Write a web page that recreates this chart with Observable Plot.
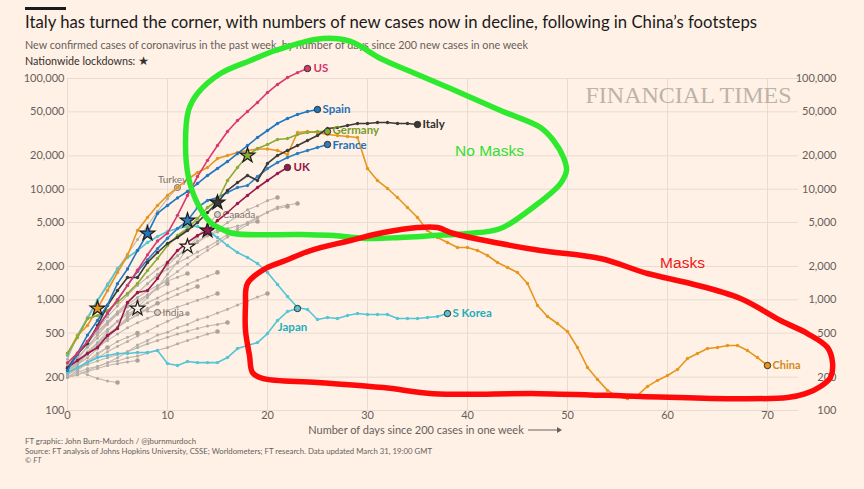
<!DOCTYPE html>
<html><head><meta charset="utf-8">
<script src="https://cdn.jsdelivr.net/npm/d3@7"></script>
<script src="https://cdn.jsdelivr.net/npm/@observablehq/plot@0.6"></script>
<style>
html,body{margin:0;padding:0;background:#fff1e5;}
body{width:864px;height:489px;position:relative;overflow:hidden;font-family:Lato,"Open Sans",sans-serif;}
.abs{position:absolute;white-space:nowrap;transform-origin:0 50%;}
#bar{left:25px;top:7px;width:41px;height:3px;background:#1a1a1a;}
#title{left:25px;top:12px;font-size:17px;line-height:20px;color:#1a1a1a;}
#subtitle{left:25px;top:39px;font-size:10.5px;line-height:12px;color:#66605c;}
#legend{left:25px;top:55px;font-size:10.5px;line-height:12px;color:#33302e;}
#chart{left:0;top:68px;z-index:2;}
.foot{left:25px;font-size:7.5px;line-height:9.5px;color:#66605c;}
</style>
</head><body>
<div id="bar" class="abs"></div>
<div id="title" class="abs">Italy has turned the corner, with numbers of new cases now in decline, following in China’s footsteps</div>
<div id="subtitle" class="abs">New confirmed cases of coronavirus in the past week, by number of days since 200 new cases in one week</div>
<div id="legend" class="abs">Nationwide lockdowns: <span style="font-family:'DejaVu Sans';font-size:12px">★</span></div>
<div id="chart" class="abs"></div>
<div id="f1" class="abs foot" style="top:437px">FT graphic: John Burn-Murdoch / @jburnmurdoch</div>
<div id="f2" class="abs foot" style="top:446.5px">Source: FT analysis of Johns Hopkins University, CSSE; Worldometers; FT research. Data updated March 31, 19:00 GMT</div>
<div id="f3" class="abs foot" style="top:456px">© <i>FT</i></div>
<script>
// ---- Data (values by day since 200 new cases in one week) ----
const us = [270, 330, 420, 560, 760, 1000, 1350, 1850, 2550, 3400, 4000, 5800, 8770, 13000, 18200, 24800, 33200, 41700, 50300, 60700, 74700, 88300, 102000, 113000, 123000];
const spain = [230, 330, 480, 650, 900, 1400, 1900, 2790, 3970, 6030, 7120, 8340, 9530, 11250, 13290, 15370, 17780, 21000, 24800, 29300, 33900, 39200, 43500, 47300, 50300, 52500];
const italy = [240, 327, 403, 586, 889, 1214, 1592, 1592, 2175, 2677, 3228, 3660, 4230, 5000, 6150, 7570, 9730, 11480, 13290, 11970, 17060, 20150, 22350, 24800, 27530, 30530, 35320, 36060, 37600, 39200, 39200, 40000, 40000, 39200, 39200, 38400];
const germany = [330, 457, 678, 720, 801, 950, 1141, 1405, 1841, 2362, 3097, 3813, 4410, 5430, 6830, 7900, 11970, 15700, 20150, 23300, 25330, 28100, 28700, 31200, 32500, 33200, 33200];
const france = [240, 320, 420, 560, 750, 1000, 1350, 1800, 2300, 2900, 3600, 4400, 5210, 6830, 7900, 8410, 9330, 10350, 10790, 13000, 15370, 17400, 19300, 21000, 22350, 23800, 25330];
const uk = [245, 283, 327, 371, 476, 551, 946, 1165, 1214, 1558, 2175, 2790, 3300, 3813, 4230, 5210, 6150, 7420, 8770, 10350, 11970, 13840, 15700];
const china = [327, 476, 586, 835, 1214, 1766, 2515, 4230, 5550, 7120, 8770, 10350, 12230, 14150, 15700, 18900, 20150, 21450, 22350, 23070, 23070, 22350, 20570, 32500, 33200, 32500, 31200, 30550, 29900, 29300, 15370, 11970, 10140, 8410, 6830, 5550, 4230, 3660, 3300, 2970, 2970, 2790, 2515, 2175, 1960, 1766, 1405, 889, 707, 611, 517, 371, 245, 191, 152, 134, 128, 137, 165, 187, 207, 235, 295, 327, 363, 371, 387, 387, 348, 301, 255];
const skorea = [314, 476, 678, 986, 1347, 1919, 2412, 2790, 3300, 3735, 4143, 4410, 4600, 4600, 4230, 3660, 3097, 2677, 2412, 2130, 1766, 1376, 1072, 853, 818, 664, 693, 678, 722, 752, 737, 737, 737, 678, 678, 678, 693, 707, 752];
const japan = [220, 245, 271, 301, 314, 327, 327, 334, 334, 348, 266, 255, 277, 271, 271, 271, 301, 363, 387, 411, 496, 650, 785, 835];

const turkey = [290, 480, 700, 1000, 1400, 1900, 2600, 3500, 4700, 6300, 8200, 10350];
const canada = [230, 260, 300, 360, 450, 560, 700, 850, 1050, 1300, 1700, 2200, 2900, 3700, 4800, 5900];
const india = [220, 260, 320, 390, 470, 560, 680, 835, 790, 769];
const otherA = [250, 320, 420, 540, 700, 880, 1100, 1350, 1600, 1900, 2200, 2500, 2900, 3300, 3800, 4300, 5000, 5700, 6500, 7100, 7900, 8400];
const otherB = [230, 290, 380, 480, 620, 780, 950, 1150, 1400, 1650, 1900, 2150, 2400, 2700, 3000, 3400, 3900, 4400, 5000, 5600, 6200, 6700, 6970];
const otherC = [210, 260, 330, 410, 520, 640, 780, 930, 1100, 1300, 1550, 1800, 2100, 2450, 2800, 3200, 3700, 4200, 4800, 5500, 6200, 6900, 7200, 7420];
const otherD = [240, 300, 380, 480, 600, 750, 930, 1150, 1400, 1700, 2050, 2500, 3030, 3400, 3800, 4100, 4400, 4650, 4900, 5100];
const otherE = [200, 210, 230, 250, 270, 300, 340, 390, 430, 480, 510, 560, 600, 660, 700, 760, 820, 900, 980, 1060, 1141];
const otherF = [220, 240, 260, 280, 300, 320, 340, 370, 400, 430, 460, 490, 520, 550, 580, 600, 624];
const otherG = [200, 220, 240, 250, 270, 280, 300, 310, 330, 350, 370, 400, 430, 460, 490, 517];
const otherH = [230, 270, 320, 370, 430, 490, 560, 620, 680, 740, 800, 860, 920, 990, 1060, 1141];
const otherI = [250, 300, 370, 450, 540, 640, 740, 840, 940, 1040, 1150, 1260, 1380, 1500, 1630, 1770];
const otherJ = [260, 330, 420, 520, 640, 770, 900, 1050, 1200, 1350, 1480, 1600, 1730];
const otherK = [230, 280, 340, 410, 490, 570, 650, 730, 820, 920, 1020, 1120, 1220, 1320];
const otherL = [250, 320, 410, 510, 620, 740, 860, 980, 1110, 1250, 1400];
const otherM = [210, 240, 270, 300, 340, 380, 420, 470, 520, 580, 640, 700, 750];
const otherN = [250, 230, 210, 195, 185, 179];
const otherO = [200, 230, 270, 320, 370, 420, 460, 500];
const otherP = [200, 210, 225, 240, 255, 265, 275, 283];
const otherQ = [220, 270, 330, 400, 480, 560, 650, 740, 840, 930];
const otherS = [210, 240, 280, 330, 371];

const lockdownNames = ["China", "Spain", "France", "UK", "Italy", "Germany", "India", "Other D"];
const lockdownDays = [3, 8, 12, 14, 15, 18, 7, 12];

const yTicks = [100, 200, 500, 1000, 2000, 5000, 10000, 20000, 50000, 100000];
const xTicks = [0, 10, 20, 30, 40, 50, 60, 70];

// hand-drawn annotation loops, as [day, cases]
const noMaskLoop = [[25.5,229600],[28.3,216000],[31.3,151700],[34.3,115700],[38.3,81300],[43.3,51400],[47.3,36100],[48.6,27500],[49.6,19300],[49.9,14750],[49.3,11250],[48.3,9140],[46.8,7120],[43.3,4410],[40.0,3980],[36.6,3810],[33.3,3660],[30.0,3580],[26.6,3810],[23.3,3890],[16.6,3980],[15.3,4410],[14.3,5000],[13.0,7420],[12.1,12740],[11.8,25860],[12.1,51400],[13.0,73200],[15.3,110900],[18.3,145500],[20.8,179100]];
const maskLoop = [[18.0,1405],[19.8,1919],[21.8,2266],[24.3,2790],[28.3,3436],[31.6,4058],[35.0,4505],[37.0,4505],[38.6,3975],[43.3,3228],[47.3,2790],[53.3,2362],[58.0,1729],[62.3,1405],[67.3,1028],[71.3,650],[74.0,496],[76.0,371],[76.5,271],[76.3,199],[75.3,165],[73.8,142],[72.0,131],[66.0,128],[57.3,134],[47.3,142],[36.6,142],[31.6,161],[25.0,179],[19.5,195],[18.5,220],[18.2,314],[17.8,528],[17.8,889]];
const annotationTexts = [{text:"No Masks", day:42.2, value:22340}, {text:"Masks", day:61.5, value:2150}];

// ---- Styles ----
const main = [
  {name:"Japan", values:japan}, {name:"S Korea", values:skorea}, {name:"China", values:china},
  {name:"UK", values:uk}, {name:"France", values:france}, {name:"Germany", values:germany},
  {name:"Italy", values:italy}, {name:"Spain", values:spain}, {name:"US", values:us}
];
const others = [
  {name:"Turkey", values:turkey}, {name:"Canada", values:canada}, {name:"India", values:india},
  {name:"Other A", values:otherA}, {name:"Other B", values:otherB}, {name:"Other C", values:otherC},
  {name:"Other D", values:otherD}, {name:"Other E", values:otherE}, {name:"Other F", values:otherF},
  {name:"Other G", values:otherG}, {name:"Other H", values:otherH}, {name:"Other I", values:otherI},
  {name:"Other J", values:otherJ}, {name:"Other K", values:otherK}, {name:"Other L", values:otherL},
  {name:"Other M", values:otherM}, {name:"Other N", values:otherN}, {name:"Other O", values:otherO},
  {name:"Other P", values:otherP}, {name:"Other Q", values:otherQ}, {name:"Other S", values:otherS}
];
const lineColor = {US:"#d9386f", Spain:"#1f77c0", France:"#2b7fc3", Italy:"#3b3938", Germany:"#8aab36", UK:"#9a184b", China:"#e8951f", "S Korea":"#53c5d5", Japan:"#53c5d5"};
const labelStyle = {
  US:{fill:"#d4346b", dx:6, dy:0, anchor:"start"},
  Spain:{fill:"#1f72b8", dx:5, dy:0, anchor:"start"},
  Italy:{fill:"#33302e", dx:5, dy:0, anchor:"start"},
  Germany:{fill:"#789a28", dx:5, dy:-1, anchor:"start"},
  France:{fill:"#1f72b8", dx:5, dy:1, anchor:"start"},
  UK:{fill:"#931547", dx:6, dy:0, anchor:"start"},
  "S Korea":{fill:"#1eadbd", dx:5, dy:0, anchor:"start"},
  Japan:{fill:"#1eadbd", dx:-5, dy:19, anchor:"middle"},
  China:{fill:"#d3891a", dx:5, dy:0, anchor:"start", size:11}
};
const grayLabelStyle = {Turkey:{dx:-5, dy:-8, anchor:"middle"}, Canada:{dx:5, dy:0, anchor:"start"}, India:{dx:5, dy:0, anchor:"start"}};

const rowsOf = s => s.values.map((v, i) => ({name: s.name, day: i, value: v}));
const endOf = s => ({name: s.name, day: s.values.length - 1, value: s.values[s.values.length - 1]});
const allSeries = [...main, ...others];
const seriesByName = Object.fromEntries(allSeries.map(s => [s.name, s]));
const stars = lockdownNames.map((n, i) => ({name: n, day: lockdownDays[i], value: seriesByName[n].values[lockdownDays[i]]}));

const fmt = d3.format(",");
const marks = [
  Plot.gridY({ticks: yTicks, stroke: "#e9dbcf", strokeOpacity: 1}),
  Plot.gridX({ticks: xTicks, stroke: "#e9dbcf", strokeOpacity: 1}),
  Plot.text(["FINANCIAL TIMES"], {text: d => d, frameAnchor: "top-right", dx: -7, dy: 17, textAnchor: "end", lineAnchor: "middle", fontFamily: "Liberation Serif, serif", fontSize: 24, fill: "#bdb3a9"}),
  // y tick labels, left and right
  Plot.text(yTicks, {y: d => d, text: d => fmt(d), frameAnchor: "left", dx: -3, textAnchor: "end", fill: "#66605c", fontSize: 11}),
  Plot.text(yTicks, {y: d => d, text: d => fmt(d), frameAnchor: "right", dx: 38, textAnchor: "end", fill: "#66605c", fontSize: 11}),
  Plot.axisX({ticks: xTicks, tickSize: 0, tickPadding: 1, label: null, fontSize: 11})
];
for (const s of others) {
  marks.push(Plot.line(rowsOf(s), {x: "day", y: "value", stroke: "#c3bab2", strokeWidth: 1.1}));
  marks.push(Plot.dot(rowsOf(s), {x: "day", y: "value", r: 1.5, fill: "#b3aaa3"}));
}
for (const s of others) {
  if (grayLabelStyle[s.name]) {
    marks.push(Plot.dot([endOf(s)], {x: "day", y: "value", r: 3, fill: "#d9cfc7", stroke: "#6f6761", strokeWidth: 1}));
  } else {
    marks.push(Plot.dot([endOf(s)], {x: "day", y: "value", r: 2.3, fill: "#aaa19a"}));
  }
}
for (const s of main) {
  const c = lineColor[s.name];
  marks.push(Plot.line(rowsOf(s), {x: "day", y: "value", stroke: c, strokeWidth: 1.6}));
  marks.push(Plot.dot(rowsOf(s), {x: "day", y: "value", r: 1.7, fill: c}));
}
for (const st of stars) {
  const c = lineColor[st.name] || "#fff1e5";
  marks.push(Plot.dot([st], {x: "day", y: "value", symbol: "star", r: 4.6, fill: c, stroke: "#1a1a1a", strokeWidth: 1.2}));
}
for (const s of main) {
  marks.push(Plot.dot([endOf(s)], {x: "day", y: "value", r: 3.2, fill: lineColor[s.name], stroke: "#33302e", strokeWidth: 1}));
  const ls = labelStyle[s.name];
  marks.push(Plot.text([endOf(s)], {x: "day", y: "value", text: "name", dx: ls.dx, dy: ls.dy, textAnchor: ls.anchor, fill: ls.fill, fontWeight: 700, fontSize: ls.size || 11.5, fontFamily: "Lato, sans-serif"}));
}
for (const s of others) {
  const ls = grayLabelStyle[s.name];
  if (!ls) continue;
  marks.push(Plot.text([endOf(s)], {x: "day", y: "value", text: "name", dx: ls.dx, dy: ls.dy, textAnchor: ls.anchor, fill: "#7a726c", fontSize: 10, fontFamily: "Lato, sans-serif"}));
}
// annotations
marks.push(Plot.line(noMaskLoop, {x: d => d[0], y: d => d[1], curve: "catmull-rom-closed", stroke: "#2eea2e", strokeWidth: 5.5}));
marks.push(Plot.line(maskLoop, {x: d => d[0], y: d => d[1], curve: "catmull-rom-closed", stroke: "#ff0a0a", strokeWidth: 5.5}));
marks.push(Plot.text(annotationTexts.slice(0,1), {x: "day", y: "value", text: "text", fill: "#2fe02f", fontSize: 15.5, fontFamily: "Liberation Sans, Arial, sans-serif"}));
marks.push(Plot.text(annotationTexts.slice(1), {x: "day", y: "value", text: "text", fill: "#f01818", fontSize: 15.5, fontFamily: "Liberation Sans, Arial, sans-serif"}));

const plot = Plot.plot({
  width: 864, height: 370,
  marginLeft: 67, marginRight: 66, marginTop: 10, marginBottom: 28,
  style: {background: "transparent", overflow: "visible", fontFamily: "Lato, sans-serif", fontSize: "11px", color: "#66605c"},
  x: {domain: [0, 73.1]},
  y: {type: "log", domain: [100, 100000], axis: null},
  marks
});
document.getElementById("chart").appendChild(plot);

// x-axis title with arrow
const svg = d3.select(plot);
const xs = plot.scale("x");
const cx = xs.apply(34.9);
svg.append("text").attr("x", cx).attr("y", 366).attr("text-anchor", "middle")
  .attr("fill", "#66605c").style("font-family", "Lato, sans-serif").style("font-size", "11px")
  .text("Number of days since 200 cases in one week");
const ax0 = xs.apply(46.1), ax1 = xs.apply(49.0);
svg.append("line").attr("x1", ax0).attr("x2", ax1).attr("y1", 362).attr("y2", 362).attr("stroke", "#66605c").attr("stroke-width", 1);
svg.append("path").attr("d", `M${ax1},359L${ax1 + 5},362L${ax1},365Z`).attr("fill", "#66605c");

function fit(id, w) {
  const el = document.getElementById(id);
  el.style.transform = "none";
  const r = el.getBoundingClientRect().width;
  if (r > 0) el.style.transform = `scaleX(${w / r})`;
}
function fitAll() {
  fit("title", 732); fit("subtitle", 503); fit("legend", 124);
  fit("f1", 171); fit("f2", 407);
}
fitAll();
if (document.fonts && document.fonts.ready) document.fonts.ready.then(fitAll);
</script>
</body></html>
